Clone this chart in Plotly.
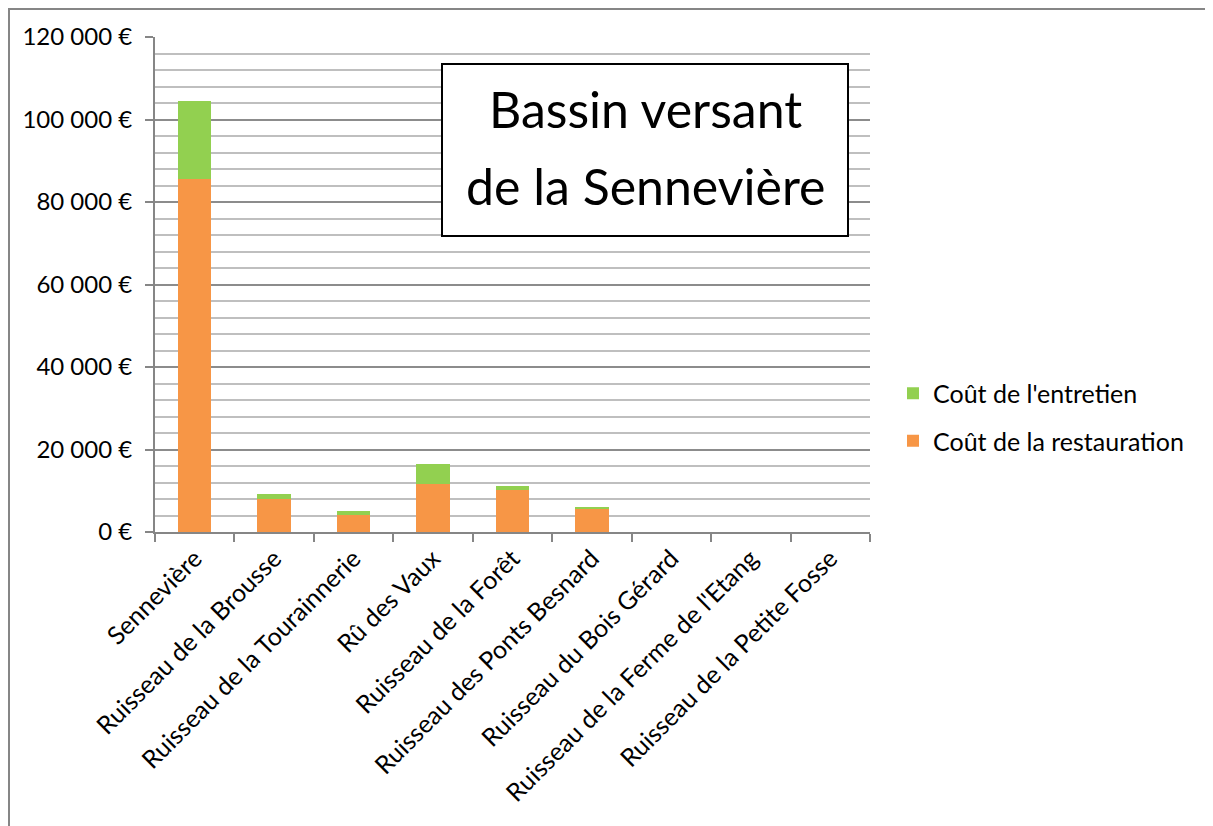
import plotly.graph_objects as go

categories = [
    "Sennevière",
    "Ruisseau de la Brousse",
    "Ruisseau de la Tourainnerie",
    "Rû des Vaux",
    "Ruisseau de la Forêt",
    "Ruisseau des Ponts Besnard",
    "Ruisseau du Bois Gérard",
    "Ruisseau de la Ferme de l'Etang",
    "Ruisseau de la Petite Fosse",
]
cout_restauration = [85600, 8000, 4200, 11700, 10200, 5650, 0, 0, 0]
cout_entretien = [18900, 1200, 800, 4800, 950, 170, 0, 0, 0]

title_lines = ["Bassin versant", "de la Sennevière"]

FONT = "Lato"
W, H = 1213, 826
OFF = 8  # page body margin offset
# plot area in screen pixels
L, R, T, B = 155, 870, 37, 532


def px(x):
    return (x - L) / (R - L)


def py(y):
    return (B - y) / (B - T)


fig = go.Figure()
fig.add_trace(go.Bar(
    x=categories, y=cout_restauration, name="Coût de la restauration",
    marker=dict(color="#F79646", line=dict(width=0)), legendgroup="a",
    legendrank=2,
))
fig.add_trace(go.Bar(
    x=categories, y=cout_entretien, name="Coût de l'entretien",
    marker=dict(color="#92D050", line=dict(width=0)), legendgroup="b",
    legendrank=1,
))

fig.update_layout(
    width=W, height=H,
    margin=dict(l=L - OFF, r=W - (R - OFF), t=T - OFF, b=H - (B - OFF), autoexpand=False),
    barmode="stack", bargap=0.58,
    paper_bgcolor="white", plot_bgcolor="white",
    font=dict(family=FONT, size=25, color="black"),
    separators=", ",
    showlegend=True,
    legend=dict(
        x=px(893), xanchor="left", y=py(417), yanchor="middle",
        traceorder="grouped", tracegroupgap=12,
        font=dict(family=FONT, size=25, color="black"),
        bgcolor="rgba(0,0,0,0)",
    ),
)

fig.update_xaxes(
    type="category", tickson="boundaries",
    showline=True, linecolor="#868686", linewidth=2,
    ticks="outside", ticklen=8, tickwidth=2, tickcolor="#868686",
    tickangle=-45, showgrid=False,
    tickfont=dict(family=FONT, size=25, color="black"),
)
fig.update_yaxes(
    range=[0, 120000], dtick=20000, tick0=0,
    tickformat=",.0f", ticksuffix=" €",
    showline=True, linecolor="#868686", linewidth=2,
    ticks="outside", ticklen=8, tickwidth=2, tickcolor="#868686",
    ticklabelstandoff=8,
    showgrid=True, gridcolor="#8c8c8c", gridwidth=2,
    zeroline=False,
    minor=dict(dtick=4000, showgrid=True, gridcolor="#bfbfbf", gridwidth=1.5, ticks=""),
    tickfont=dict(family=FONT, size=24, color="black"),
)

# outer chart frame (left and top edges visible)
fig.add_shape(
    type="path", xref="paper", yref="paper",
    path=f"M {px(OFF + 1)},{py(840)} L {px(OFF + 1)},{py(OFF + 1)} L {px(1230)},{py(OFF + 1)}",
    line=dict(color="#868686", width=2), layer="above",
)

# title box
fig.add_shape(
    type="rect", xref="paper", yref="paper",
    x0=px(442), x1=px(848), y0=py(236), y1=py(64),
    line=dict(color="black", width=2), fillcolor="white", layer="above",
)
fig.add_annotation(
    xref="paper", yref="paper", x=px(645), y=py(109),
    text=title_lines[0], showarrow=False,
    font=dict(family=FONT, size=50, color="black"),
    xanchor="center", yanchor="middle",
)
fig.add_annotation(
    xref="paper", yref="paper", x=px(645), y=py(186),
    text=title_lines[1], showarrow=False,
    font=dict(family=FONT, size=50, color="black"),
    xanchor="center", yanchor="middle",
)

fig.write_html("out.html")
